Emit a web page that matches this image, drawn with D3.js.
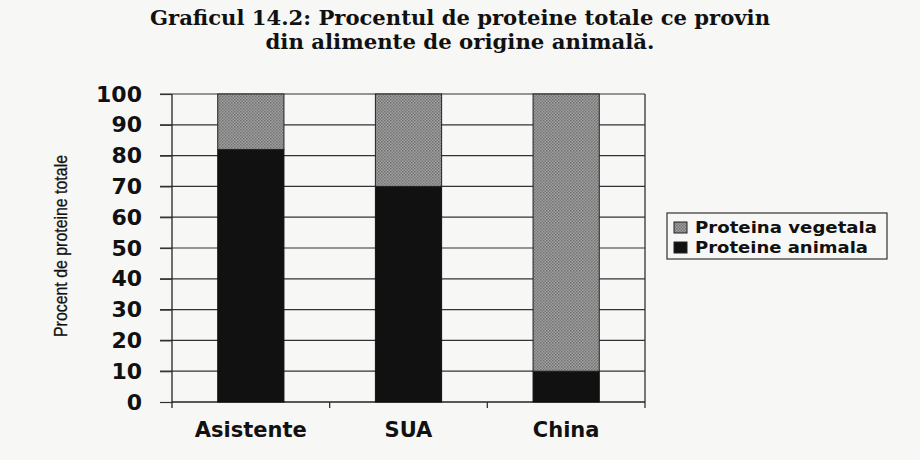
<!DOCTYPE html>
<html><head><meta charset="utf-8">
<script src="https://cdn.jsdelivr.net/npm/d3@7"></script>
<style>body{margin:0;background:#f7f7f5;}svg{display:block;}</style>
</head><body>
<svg id="c" width="920" height="460"></svg>
<script>
const categories = ["Asistente", "SUA", "China"];
const animal = [82, 70, 10];
const vegetal = [18, 30, 90];
const yTicks = [0,10,20,30,40,50,60,70,80,90,100];
const seriesNames = ["Proteina vegetala", "Proteine animala"];
const titleLines = ["Graficul 14.2: Procentul de proteine totale ce provin", "din alimente de origine animală."];
const yLabel = "Procent de proteine totale";

const svg = d3.select("#c");
svg.append("rect").attr("width",920).attr("height",460).attr("fill","#f7f7f5");
const defs = svg.append("defs");
const pat = defs.append("pattern").attr("id","gp").attr("width",3).attr("height",3).attr("patternUnits","userSpaceOnUse");
pat.append("rect").attr("width",3).attr("height",3).attr("fill","#a0a0a0");
pat.append("rect").attr("width",1.5).attr("height",1.5).attr("fill","#727272");
pat.append("rect").attr("x",1.5).attr("y",1.5).attr("width",1.5).attr("height",1.5).attr("fill","#7a7a7a");

const L=172, R=645, T=94, B=402;
const x = d3.scaleBand().domain(categories).range([L,R]).paddingInner(0.58).paddingOuter(0.29);
const y = d3.scaleLinear().domain([0,100]).range([B,T]);
const sans = "'DejaVu Sans', Verdana, sans-serif";

// title
const tl = [620, 389];
svg.append("g").selectAll("text").data(titleLines).join("text")
  .attr("x",460).attr("y",(d,i)=>25+i*24).attr("text-anchor","middle")
  .attr("font-family","'DejaVu Serif', 'Liberation Serif', serif").attr("font-weight","bold")
  .attr("font-size",20).attr("fill","#111")
  .attr("textLength",(d,i)=>tl[i]).attr("lengthAdjust","spacingAndGlyphs").text(d=>d);

// gridlines
svg.append("g").selectAll("line").data(yTicks.filter(d=>d>0)).join("line")
  .attr("x1",L-12).attr("x2",R).attr("y1",d=>y(d)).attr("y2",d=>y(d))
  .attr("stroke","#333").attr("stroke-width",1.2);

// y axis
const ya = svg.append("g").attr("transform",`translate(${L},0)`)
  .call(d3.axisLeft(y).tickValues(yTicks).tickSize(12).tickPadding(18));
ya.select(".domain").attr("stroke","#222").attr("stroke-width",1.3).attr("d",`M0,${B+6}V${T}`);
ya.selectAll(".tick line").attr("stroke","#333").attr("stroke-width",1.2);
ya.selectAll("text").attr("font-family",sans).attr("font-weight","bold")
  .attr("font-size",22).attr("fill","#111");

// right border
svg.append("line").attr("x1",R).attr("x2",R).attr("y1",T).attr("y2",B+6).attr("stroke","#333").attr("stroke-width",1.3);

// x axis
svg.append("line").attr("x1",L).attr("x2",R).attr("y1",B).attr("y2",B).attr("stroke","#222").attr("stroke-width",1.3);
const bounds = categories.slice(1).map(c=>x(c)-x.step()*x.paddingInner()/2);
svg.append("g").selectAll("line").data(bounds).join("line")
  .attr("x1",d=>d).attr("x2",d=>d).attr("y1",B).attr("y2",B+6).attr("stroke","#333").attr("stroke-width",1.3);
svg.append("g").selectAll("text").data(categories).join("text")
  .attr("x",d=>x(d)+x.bandwidth()/2).attr("y",437).attr("text-anchor","middle")
  .attr("font-family",sans).attr("font-weight","bold")
  .attr("font-size",21).attr("fill","#111").text(d=>d);

// bars
const bars = svg.append("g");
bars.selectAll(".a").data(categories).join("rect").attr("class","a")
  .attr("x",d=>x(d)).attr("width",x.bandwidth())
  .attr("y",(d,i)=>y(animal[i])).attr("height",(d,i)=>y(0)-y(animal[i]))
  .attr("fill","#111").attr("stroke","#111");
bars.selectAll(".v").data(categories).join("rect").attr("class","v")
  .attr("x",d=>x(d)).attr("width",x.bandwidth())
  .attr("y",(d,i)=>y(animal[i]+vegetal[i])).attr("height",(d,i)=>y(animal[i])-y(animal[i]+vegetal[i]))
  .attr("fill","url(#gp)").attr("stroke","#222").attr("stroke-width",1);

// y label
svg.append("text").attr("transform","translate(67,246) rotate(-90)").attr("text-anchor","middle")
  .attr("font-family","'Liberation Sans Narrow', 'Liberation Sans', Arial, sans-serif").attr("font-size",19)
  .attr("stroke","#111").attr("stroke-width",0.3).attr("fill","#111")
  .attr("textLength",182).attr("lengthAdjust","spacingAndGlyphs").text(yLabel);

// legend
const lg = svg.append("g").attr("transform","translate(667,213)");
lg.append("rect").attr("width",220).attr("height",46).attr("fill","#f7f7f5").attr("stroke","#333").attr("stroke-width",1.2);
const fills = ["url(#gp)","#111"];
const lw = [182, 173];
seriesNames.forEach((n,i)=>{
  lg.append("rect").attr("x",7).attr("y",9+i*20).attr("width",13).attr("height",11).attr("fill",fills[i]).attr("stroke","#222");
  lg.append("text").attr("x",28).attr("y",20+i*20).attr("font-family",sans)
    .attr("font-weight","bold").attr("font-size",16).attr("fill","#111")
    .attr("textLength",lw[i]).attr("lengthAdjust","spacingAndGlyphs").text(n);
});
</script>
</body></html>
